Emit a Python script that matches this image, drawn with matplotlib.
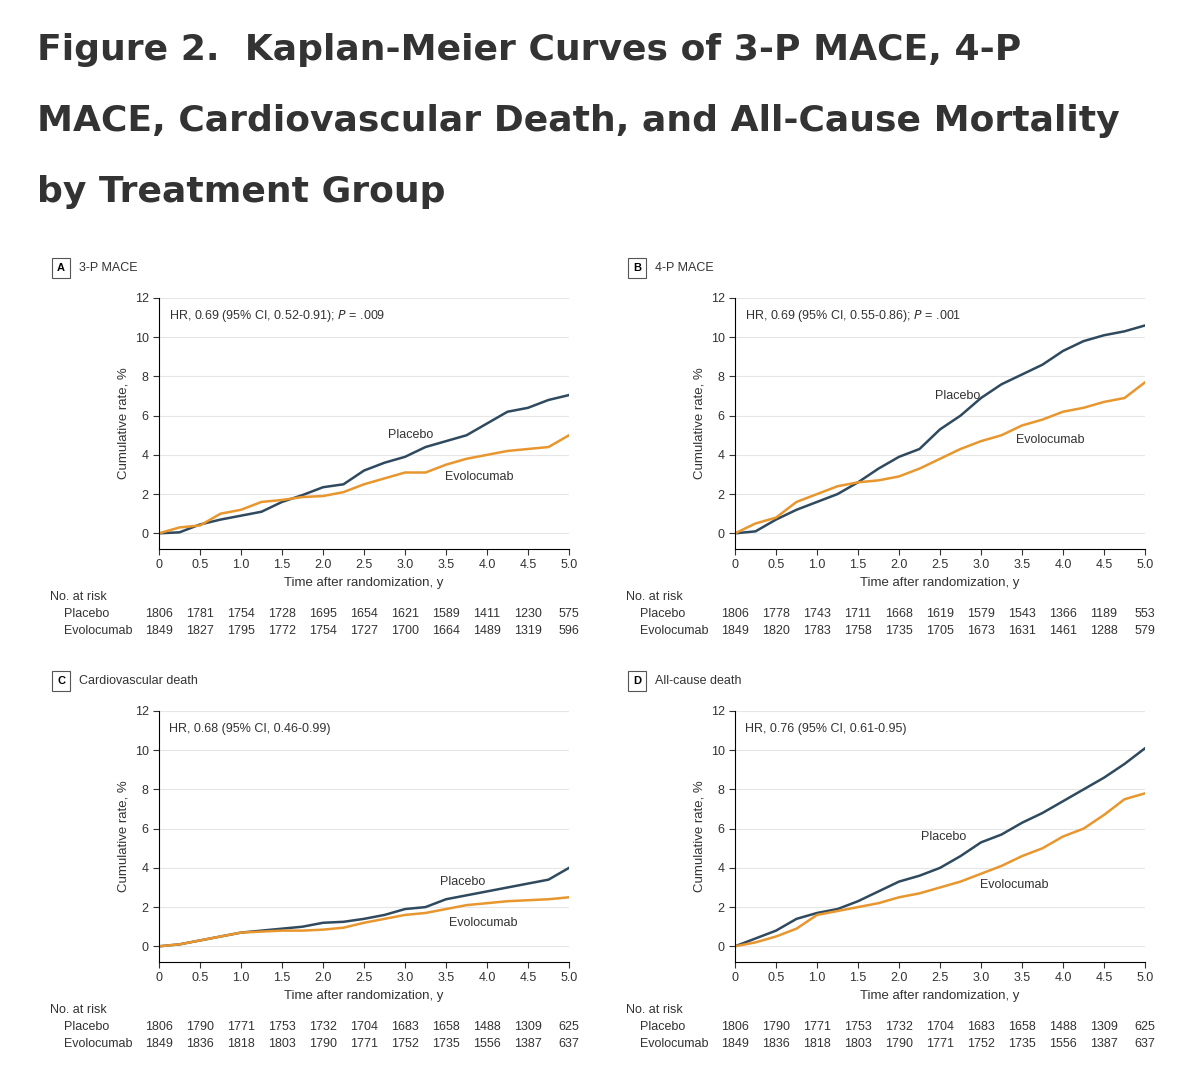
import numpy as np
import matplotlib.pyplot as plt

W, H = 1195, 1084
plt.rcParams['font.family'] = ['Liberation Sans', 'DejaVu Sans']

years = np.arange(0, 5.01, 0.25)
tick_years = [0, 0.5, 1.0, 1.5, 2.0, 2.5, 3.0, 3.5, 4.0, 4.5, 5.0]
tick_labels = ['0', '0.5', '1.0', '1.5', '2.0', '2.5', '3.0', '3.5', '4.0', '4.5', '5.0']

placebo_a = [0, 0.05, 0.45, 0.7, 0.9, 1.1, 1.6, 1.95, 2.35, 2.5, 3.2, 3.6, 3.9, 4.4, 4.7, 5.0, 5.6, 6.2, 6.4, 6.8, 7.05]
evo_a = [0, 0.3, 0.4, 1.0, 1.2, 1.6, 1.7, 1.85, 1.9, 2.1, 2.5, 2.8, 3.1, 3.1, 3.5, 3.8, 4.0, 4.2, 4.3, 4.4, 5.0]
placebo_b = [0, 0.1, 0.7, 1.2, 1.6, 2.0, 2.6, 3.3, 3.9, 4.3, 5.3, 6.0, 6.9, 7.6, 8.1, 8.6, 9.3, 9.8, 10.1, 10.3, 10.6]
evo_b = [0, 0.5, 0.8, 1.6, 2.0, 2.4, 2.6, 2.7, 2.9, 3.3, 3.8, 4.3, 4.7, 5.0, 5.5, 5.8, 6.2, 6.4, 6.7, 6.9, 7.7]
placebo_c = [0, 0.1, 0.3, 0.5, 0.7, 0.8, 0.9, 1.0, 1.2, 1.25, 1.4, 1.6, 1.9, 2.0, 2.4, 2.6, 2.8, 3.0, 3.2, 3.4, 4.0]
evo_c = [0, 0.1, 0.3, 0.5, 0.7, 0.75, 0.8, 0.8, 0.85, 0.95, 1.2, 1.4, 1.6, 1.7, 1.9, 2.1, 2.2, 2.3, 2.35, 2.4, 2.5]
placebo_d = [0, 0.4, 0.8, 1.4, 1.7, 1.9, 2.3, 2.8, 3.3, 3.6, 4.0, 4.6, 5.3, 5.7, 6.3, 6.8, 7.4, 8.0, 8.6, 9.3, 10.1]
evo_d = [0, 0.2, 0.5, 0.9, 1.6, 1.8, 2.0, 2.2, 2.5, 2.7, 3.0, 3.3, 3.7, 4.1, 4.6, 5.0, 5.6, 6.0, 6.7, 7.5, 7.8]

risk_placebo_a = [1806, 1781, 1754, 1728, 1695, 1654, 1621, 1589, 1411, 1230, 575]
risk_evo_a = [1849, 1827, 1795, 1772, 1754, 1727, 1700, 1664, 1489, 1319, 596]
risk_placebo_b = [1806, 1778, 1743, 1711, 1668, 1619, 1579, 1543, 1366, 1189, 553]
risk_evo_b = [1849, 1820, 1783, 1758, 1735, 1705, 1673, 1631, 1461, 1288, 579]
risk_placebo_cd = [1806, 1790, 1771, 1753, 1732, 1704, 1683, 1658, 1488, 1309, 625]
risk_evo_cd = [1849, 1836, 1818, 1803, 1790, 1771, 1752, 1735, 1556, 1387, 637]

PLACEBO = '#2f4a5e'
EVO = '#e8962e'

panels = [
    ('A', '3-P MACE', 'HR, 0.69 (95% CI, 0.52-0.91); $\\it{P}$ = .009', placebo_a, evo_a,
     risk_placebo_a, risk_evo_a, (3.07, 5.0), (3.9, 2.85), 159, 298),
    ('B', '4-P MACE', 'HR, 0.69 (95% CI, 0.55-0.86); $\\it{P}$ = .001', placebo_b, evo_b,
     risk_placebo_b, risk_evo_b, (2.72, 7.0), (3.85, 4.75), 735, 298),
    ('C', 'Cardiovascular death', 'HR, 0.68 (95% CI, 0.46-0.99)', placebo_c, evo_c,
     risk_placebo_cd, risk_evo_cd, (3.7, 3.3), (3.95, 1.2), 159, 711),
    ('D', 'All-cause death', 'HR, 0.76 (95% CI, 0.61-0.95)', placebo_d, evo_d,
     risk_placebo_cd, risk_evo_cd, (2.55, 5.6), (3.4, 3.15), 735, 711),
]

fig = plt.figure(figsize=(W / 100, H / 100), dpi=100)

def ftext(x, y, s, **kw):
    fig.text(x / W, 1 - y / H, s, **kw)

title_lines = ['Figure 2.  Kaplan-Meier Curves of 3-P MACE, 4-P',
               'MACE, Cardiovascular Death, and All-Cause Mortality',
               'by Treatment Group']
for i, line in enumerate(title_lines):
    ftext(37, 50 + i * 71, line, fontsize=26, fontweight='bold', color='#333333',
          va='center', family=['DejaVu Sans'])

axw, axh = 410, 251
for letter, name, hr, pl, ev, rp, re, plpos, evpos, x0, y0 in panels:
    ax = fig.add_axes([x0 / W, 1 - (y0 + axh) / H, axw / W, axh / H])
    ax.plot(years, pl, color=PLACEBO, lw=1.8)
    ax.plot(years, ev, color=EVO, lw=1.8)
    ax.set_xlim(0, 5)
    ax.set_ylim(-0.8, 12)
    ax.set_yticks(range(0, 13, 2))
    ax.set_xticks(tick_years)
    ax.set_xticklabels(tick_labels)
    ax.tick_params(labelsize=9, colors='#333333', length=4)
    for g in range(0, 13, 2):
        ax.axhline(g, color='#e6e6e6', lw=0.8, zorder=0)
    ax.spines[['top', 'right']].set_visible(False)
    ax.set_xlabel('Time after randomization, y', fontsize=9.5, color='#333333')
    ax.set_ylabel('Cumulative rate, %', fontsize=9.5, color='#333333')
    ax.text(0.12, 11.1, hr, fontsize=9, color='#333333', va='center')
    ax.text(*plpos, 'Placebo', fontsize=9, color='#333333', ha='center', va='center')
    ax.text(*evpos, 'Evolocumab', fontsize=9, color='#333333', ha='center', va='center')

    # panel label
    bx = x0 - 105
    ftext(bx + 7, y0 - 30, letter, fontsize=8, fontweight='bold', ha='center', va='center',
          bbox=dict(boxstyle='square,pad=0.45', fc='white', ec='#555555', lw=0.8))
    ftext(bx + 25, y0 - 30, name, fontsize=9, color='#333333', va='center')

    # risk table
    ftext(x0 - 109, y0 + 299, 'No. at risk', fontsize=9, color='#333333', va='center')
    ftext(x0 - 95, y0 + 316, 'Placebo', fontsize=9, color='#333333', va='center')
    ftext(x0 - 95, y0 + 333, 'Evolocumab', fontsize=9, color='#333333', va='center')
    for k, t in enumerate(tick_years):
        px = x0 + t / 5 * axw
        ftext(px, y0 + 316, str(rp[k]), fontsize=9, color='#333333', ha='center', va='center')
        ftext(px, y0 + 333, str(re[k]), fontsize=9, color='#333333', ha='center', va='center')

fig.savefig('out.png', dpi=100)
